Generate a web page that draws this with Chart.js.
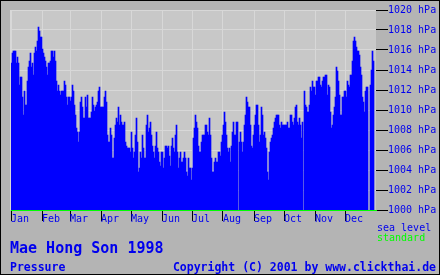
<!DOCTYPE html>
<html>
<head>
<meta charset="utf-8">
<script src="https://cdn.jsdelivr.net/npm/chart.js@4.4.1/dist/chart.umd.min.js"></script>
<style>
  html, body { margin: 0; padding: 0; background: #b4b4b4; }
  canvas { display: block; }
</style>
</head>
<body>
<canvas id="pressure" width="440" height="275"></canvas>
<script>
// Tagesmittel Luftdruck (hPa), Mae Hong Son 1998, null = kein Wert
const jan = [1014.7, 1015.7, 1015.9, 1015.9, 1015.9, 1014.7, 1015.3, 1014.7, 1012.5, 1013.3,
             1013.3, 1011.3, 1009.5, 1011.9, 1010.5, 1010.5, 1012.9, 1014.3, 1014.9, 1015.7,
             1014.3, 1014.7, 1013.5, 1015.7, 1016.3, 1015.9, 1016.9, 1018.3, 1017.9, 1017.3, 1017.3];
const feb = [1016.1, 1015.7, 1015.3, 1014.9, 1014.3, 1013.5, 1014.7, 1014.7, 1014.9, 1015.9,
             1015.9, 1015.3, 1015.9, 1014.9, 1012.9, 1011.9, 1012.5, 1011.9, 1011.5, 1011.9,
             1011.9, 1011.9, 1012.9, 1012.5, 1011.3, 1010.5, 1011.3, 1011.3];
const mar = [1010.9, 1011.3, 1012.5, 1011.9, 1010.5, 1009.5, 1008.2, 1007.8, 1006.8, 1007.8,
             1010.8, 1011.3, 1010.3, 1009.2, 1009.2, 1011.3, 1010.3, 1011.5, 1009.2, 1009.2,
             1009.2, 1009.8, 1011.3, 1010.5, 1009.9, 1010.3, 1010.5, 1010.8, 1011.9, 1012.3, 1010.3];
const apr = [1010.3, 1010.3, 1010.3, 1011.3, 1011.9, 1010.8, 1007.5, 1006.8, 1006.8, 1008.2,
             1007.5, 1005.2, 1005.2, 1007.2, 1008.5, 1009.2, 1008.8, 1010.3, 1008.5, 1009.5,
             1008.8, 1008.5, 1008.5, 1008.8, 1006.8, 1006.4, 1006.2, 1006.2, 1006.2, 1005.8];
const may = [1007.8, 1006.2, 1005.2, 1005.8, 1007.5, 1009.2, 1006.8, 1003.8, 1004.2, 1005.8,
             1005.2, 1007.5, 1006.2, 1005.2, 1005.2, 1008.5, 1009.5, 1007.8, 1008.2, 1008.8,
             1007.5, 1006.4, 1005.8, 1005.2, 1006.4, 1007.8, 1006.2, 1005.8, 1004.8, 1004.4, 1005.8];
const jun = [1005.8, 1004.2, 1005.2, 1006.4, 1006.4, 1006.2, 1006.4, 1005.4, 1004.4, 1006.4,
             1007.2, 1006.2, 1005.8, 1007.5, 1008.5, 1005.8, 1004.2, 1005.2, 1005.8, 1004.8,
             1004.8, 1005.2, 1005.8, 1005.2, 1003.8, 1003.4, 1005.2, 1004.2, 1004.2, 1003.0];
const jul = [1004.2, 1007.2, 1008.2, 1009.5, 1008.8, 1008.2, 1006.4, 1005.8, 1005.8, 1006.8,
             1007.5, 1007.5, 1007.5, 1008.5, 1008.5, 1007.8, 1007.5, 1009.2, 1007.5, 1005.2,
             1003.8, 1003.8, 1004.8, 1005.2, 1004.8, 1004.8, 1005.8, 1005.8, 1005.4, 1006.8, 1007.5];
const aug = [1008.5, 1009.8, 1008.8, 1007.5, 1006.2, 1005.8, 1006.2, 1004.8, 1006.4, 1007.8,
             1008.8, 1007.5, 1007.5, 1008.8, 1008.8, null, 1006.8, 1007.8, 1006.8, 1005.8,
             1006.8, 1008.5, 1009.5, 1011.3, 1010.8, 1010.3, 1010.3, 1008.5, 1006.4, 1006.2, 1007.5];
const sep = [1008.5, 1009.5, 1010.5, 1010.5, 1008.5, 1006.8, 1007.5, 1010.3, 1009.5, 1007.5,
             1007.8, 1007.2, 1006.2, 1003.8, 1003.0, 1005.8, 1006.8, 1007.2, 1007.5, 1008.2,
             1008.8, 1009.2, 1009.5, 1009.5, 1009.5, 1008.5, 1008.2, 1008.8, 1008.5, 1008.5];
const oct = [1008.5, 1008.5, 1008.5, 1008.8, 1008.2, 1008.2, 1009.5, 1009.5, 1008.8, 1008.5,
             1009.2, 1010.3, 1010.5, 1008.8, 1008.5, 1009.2, 1008.5, 1007.2, 1008.8, null,
             1011.9, 1010.5, 1010.3, 1009.8, 1009.8, 1010.5, 1012.3, 1011.9, 1012.9, 1012.3, 1012.3];
const nov = [1011.5, 1012.9, 1012.9, 1013.3, 1013.3, 1012.5, 1012.3, 1012.9, 1013.3, 1013.3,
             1013.5, 1013.5, 1011.5, 1012.5, 1012.3, 1009.8, 1008.2, 1008.5, 1009.5, 1010.3,
             1011.3, 1014.3, 1013.9, 1012.9, 1011.5, 1009.5, 1009.5, 1011.3, 1011.3, 1011.9];
const dec = [1011.9, 1011.3, 1012.9, 1012.5, 1012.3, 1013.5, 1013.5, 1014.9, 1016.9, 1017.3,
             1016.9, 1016.3, 1015.9, 1015.9, 1015.5, 1014.3, 1013.5, 1011.3, 1010.8, 1009.8,
             1011.9, 1012.3, 1012.3, null, null, 1012.5, 1014.0, 1015.9, 1014.9, null, null];

const monthNames = ['Jan', 'Feb', 'Mar', 'Apr', 'May', 'Jun', 'Jul', 'Aug', 'Sep', 'Oct', 'Nov', 'Dec'];
const pressureTicks = [1000, 1002, 1004, 1006, 1008, 1010, 1012, 1014, 1016, 1018, 1020];

const titleText = 'Mae Hong Son 1998';
const seriesText = 'Pressure';
const creditText = 'Copyright (C) 2001 by www.clickthai.de';
const noteTop = 'sea level';
const noteBottom = 'standard';

// Farben
const blue = '#0000ee';
const green = '#00ff00';
const gridColor = '#d8d8d8';
const fontFamily = '"DejaVu Sans Mono", monospace';

const months = [jan, feb, mar, apr, may, jun, jul, aug, sep, oct, nov, dec];
const dailyPressure = [].concat(...months);
const dayLabels = dailyPressure.map((_, i) => i + 1);
const monthStarts = [];
months.reduce((start, m) => { monthStarts.push(start); return start + m.length; }, 0);

// Hintergrund, Rahmen und Beschriftungen
const decorations = {
    id: 'decorations',
    beforeDraw(chart) {
        const { ctx, chartArea: a } = chart;
        ctx.save();
        ctx.fillStyle = '#c8c8c8';
        ctx.fillRect(a.left - 1, a.top, a.right - a.left + 1, a.bottom - a.top);
        ctx.fillStyle = gridColor;
        ctx.fillRect(a.left - 1, a.top, 1, a.bottom - a.top);
        ctx.restore();
    },
    afterDraw(chart) {
        const ctx = chart.ctx;
        ctx.save();
        ctx.fillStyle = blue;
        ctx.textBaseline = 'alphabetic';
        ctx.textAlign = 'left';
        ctx.font = 'bold 15px ' + fontFamily;
        ctx.fillText(titleText, 10, 253);
        ctx.font = 'bold 11.5px ' + fontFamily;
        ctx.fillText(seriesText, 10, 271);
        ctx.textAlign = 'right';
        ctx.fillText(creditText, 436, 271);
        ctx.textAlign = 'left';
        ctx.font = '10px ' + fontFamily;
        ctx.fillText(noteTop, 377, 230.5);
        ctx.fillStyle = green;
        ctx.fillText(noteBottom, 377, 240.5);
        ctx.strokeStyle = '#000';
        ctx.lineWidth = 1;
        ctx.strokeRect(0.5, 0.5, 439, 274);
        ctx.restore();
    }
};

new Chart(document.getElementById('pressure'), {
    type: 'bar',
    data: {
        labels: dayLabels,
        datasets: [{
            data: dailyPressure,
            xAxisID: 'x',
            yAxisID: 'y',
            backgroundColor: '#0000ff',
            borderWidth: 0,
            barPercentage: 1,
            categoryPercentage: 1
        }]
    },
    options: {
        responsive: false,
        animation: false,
        devicePixelRatio: 1,
        layout: { padding: { left: 11, top: 10, right: 0, bottom: 0 } },
        plugins: {
            legend: { display: false },
            tooltip: { enabled: false }
        },
        scales: {
            x: { type: 'category', display: false },
            m: {
                type: 'linear',
                axis: 'x',
                position: 'bottom',
                offset: false,
                min: 0,
                max: dailyPressure.length,
                afterBuildTicks: s => { s.ticks = monthStarts.map(v => ({ value: v })); },
                afterFit: s => { s.height = 65; },
                ticks: {
                    callback: (v, i) => monthNames[i],
                    align: 'start',
                    autoSkip: false,
                    maxRotation: 0,
                    padding: -8,
                    color: blue,
                    font: { family: fontFamily, size: 10 }
                },
                grid: { offset: false, color: gridColor, tickColor: '#000', tickLength: 11 },
                border: { color: green, width: 1 }
            },
            y: {
                position: 'right',
                min: 1000,
                max: 1020,
                afterBuildTicks: s => { s.ticks = pressureTicks.map(v => ({ value: v })); },
                afterFit: s => { s.width = 64; },
                ticks: {
                    callback: v => v + ' hPa',
                    padding: 0,
                    color: blue,
                    font: { family: fontFamily, size: 10 }
                },
                grid: {
                    color: c => (c.tick && c.tick.value === 1000) ? green : gridColor,
                    tickColor: '#000',
                    tickLength: 12
                },
                border: { display: false }
            }
        }
    },
    plugins: [decorations]
});
</script>
</body>
</html>
